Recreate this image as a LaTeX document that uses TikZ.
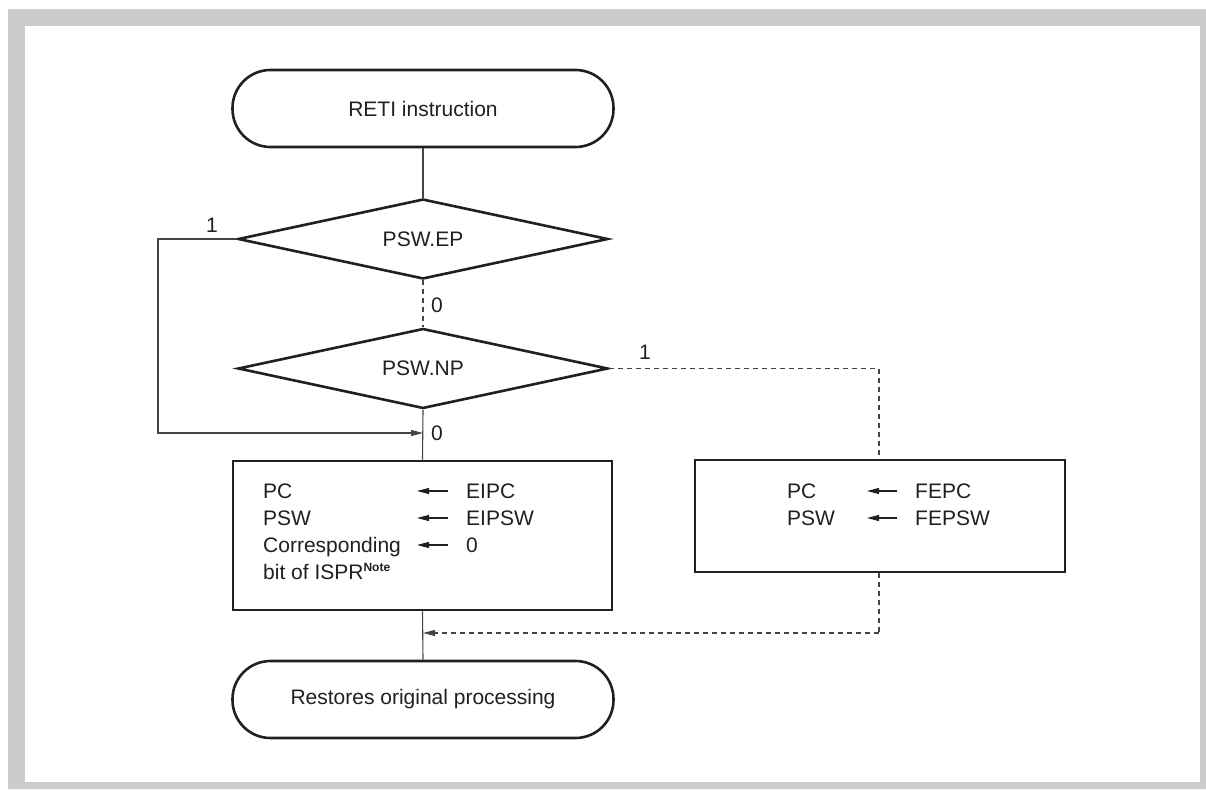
\documentclass[tikz,border=0pt]{standalone}
\usepackage{fontspec}
\setmainfont{Liberation Sans}
\usetikzlibrary{shapes.geometric,arrows.meta}
\definecolor{ink}{HTML}{231F20}
\definecolor{frame}{HTML}{CCCCCC}
\definecolor{conn}{HTML}{444444}
\begin{document}
\begin{tikzpicture}[x=1pt,y=-1pt,
  every node/.style={font=\fontsize{21}{27}\selectfont, text=ink},
  term/.style={draw=ink, line width=2.6pt, rounded corners=38pt, minimum width=381pt, minimum height=77pt, inner sep=0pt},
  decide/.style={draw=ink, line width=2.6pt, diamond, aspect=4.5, minimum width=370pt, minimum height=80pt, inner sep=0pt},
  procbox/.style={draw=ink, line width=2.6pt, rectangle, inner sep=0pt},
  txt/.style={anchor=base west, inner sep=0pt},
  lbl/.style={anchor=base, inner sep=0pt},
  flow/.style={draw=conn, line width=1.1pt},
  dflow/.style={draw=conn, line width=1.1pt, dash pattern=on 5pt off 4pt},
  tip/.style={-{Triangle[length=12pt,width=6pt]}},
]
% frame
\fill[frame] (8,9) rectangle (1206,789);
\fill[white] (25,26) rectangle (1200,782);
\useasboundingbox (0,0) rectangle (1206,789);

% nodes
\node[term] (start) at (423,108.5) {RETI instruction};
\node[decide] (ep) at (423,239) {PSW.EP};
\node[decide] (np) at (423,368.5) {PSW.NP};
\node[procbox, minimum width=379pt, minimum height=149pt] (box1) at (422.5,535.5) {};
\node[procbox, minimum width=370pt, minimum height=112pt] (box2) at (880,516) {};
\node[term] (end) at (423,699.5) {Restores original processing};

% box1 text
\node[txt] (b1pc) at (263,498) {PC};
\node[txt] (b1psw) at (263,525) {PSW};
\node[txt] (b1cor) at (263,552) {Corresponding};
\node[txt] (b1bit) at (263,579) {bit of ISPR\textsuperscript{\textbf{\fontsize{12}{14}\selectfont Note}}};
\node[txt] (b1eipc) at (466,498) {EIPC};
\node[txt] (b1eipsw) at (466,525) {EIPSW};
\node[txt] (b1zero) at (466,552) {0};
\coordinate (a1t) at (448,491); \coordinate (a1h) at (417,491);
\coordinate (a2t) at (448,518); \coordinate (a2h) at (417,518);
\coordinate (a3t) at (448,545); \coordinate (a3h) at (417,545);
\draw[flow,tip,draw=ink] (a1t) -- (a1h);
\draw[flow,tip,draw=ink] (a2t) -- (a2h);
\draw[flow,tip,draw=ink] (a3t) -- (a3h);

% box2 text
\node[txt] (b2pc) at (787,498) {PC};
\node[txt] (b2psw) at (787,525) {PSW};
\node[txt] (b2fepc) at (915,498) {FEPC};
\node[txt] (b2fepsw) at (915,525) {FEPSW};
\coordinate (c1t) at (897,491); \coordinate (c1h) at (867,491);
\coordinate (c2t) at (897,518); \coordinate (c2h) at (867,518);
\draw[flow,tip,draw=ink] (c1t) -- (c1h);
\draw[flow,tip,draw=ink] (c2t) -- (c2h);

% connectors
\draw[flow] (start.south) -- (ep.north);
\draw[dflow] (ep.south) -- (np.north);
\draw[flow] (np.south) -- (box1.north);
\draw[flow] (box1.south) -- (end.north);

\coordinate (loopL1) at (158,239);
\coordinate (loopL2) at (158,433);
\coordinate (join1) at (423,433);
\draw[flow,tip] (ep.west) -- (loopL1) -- (loopL2) -- (join1);

\coordinate (npR) at (879,368.5);
\draw[dflow] (np.east) -- (npR) -- (npR |- box2.north);

\coordinate (b2down) at (879,633);
\coordinate (join2) at (423,633);
\draw[dflow] (box2.south -| b2down) -- (b2down);
\draw[dflow,tip] (b2down) -- (join2);

% labels
\node[lbl] (l1) at (212,232.5) {1};
\node[txt] (l0a) at (431,312) {0};
\node[txt] (l0b) at (431,440) {0};
\node[lbl] (l1b) at (645,359.5) {1};
\end{tikzpicture}
\end{document}
